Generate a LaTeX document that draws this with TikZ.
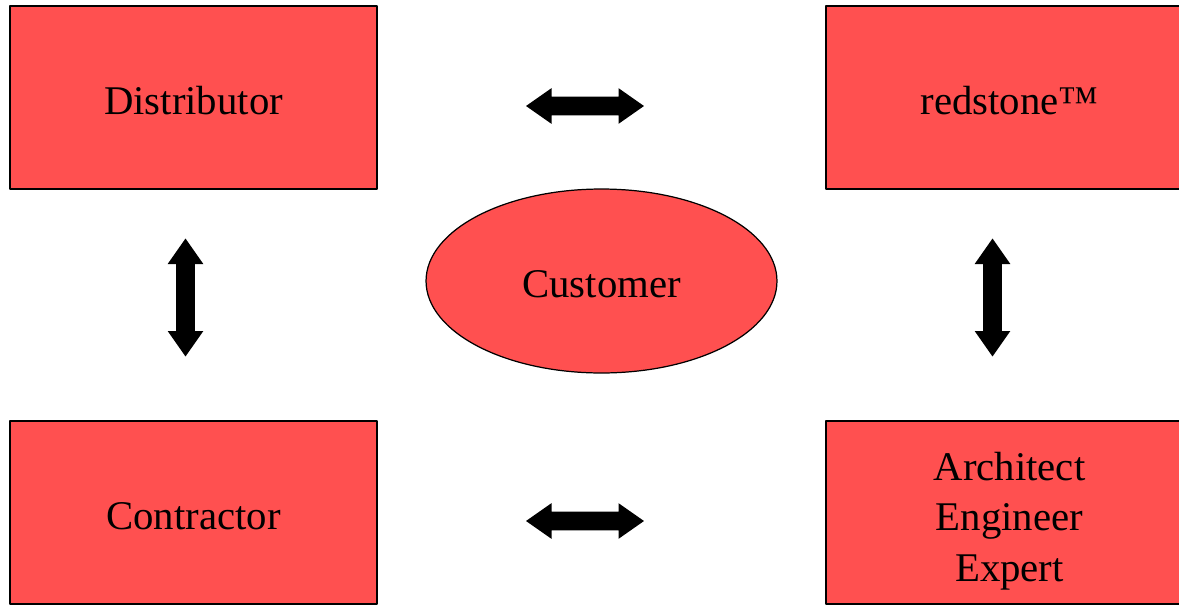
\documentclass[tikz,border=0pt]{standalone}
\usepackage{fontspec}
\setmainfont{Liberation Serif}
\usetikzlibrary{shapes.geometric,shapes.arrows}
\definecolor{boxred}{RGB}{255,80,80}
\begin{document}
\begin{tikzpicture}[x=0.02cm,y=-0.02cm,line join=round,font=\fontsize{23.2}{28.5}\selectfont,
	party/.style={draw=black,fill=boxred,line width=0.7pt,minimum width=7.34cm,minimum height=3.66cm,inner sep=0pt,align=center,text height=24pt,text depth=5pt},
	link/.style={double arrow,fill=black,inner sep=0.18cm,minimum height=2.36cm,double arrow head extend=0.17cm,double arrow tip angle=70}]
	\useasboundingbox (0,0) rectangle (1179,605);
	\clip (0,0) rectangle (1179,605);
	\node[party] (dist) at (193.5,97.5) {Distributor};
	\node[party] (red) at (1009.5,97.5) {redstone™};
	\node[party] (contr) at (193.5,512.5) {Contractor};
	\node[party,text height=83pt,text depth=5pt] (arch) at (1009.5,512.5) {Architect\\Engineer\\Expert};
	\node[draw=black,fill=boxred,line width=0.7pt,ellipse,minimum width=7.02cm,minimum height=3.68cm,text height=24pt,text depth=5pt] (cust) at (601.5,281) {Customer};
	\node[link] (top) at (585,106) {};
	\node[link] (bot) at (585,521) {};
	\node[link,rotate=90] (left) at (185.5,297.5) {};
	\node[link,rotate=90] (right) at (992.5,297.5) {};
\end{tikzpicture}
\end{document}
